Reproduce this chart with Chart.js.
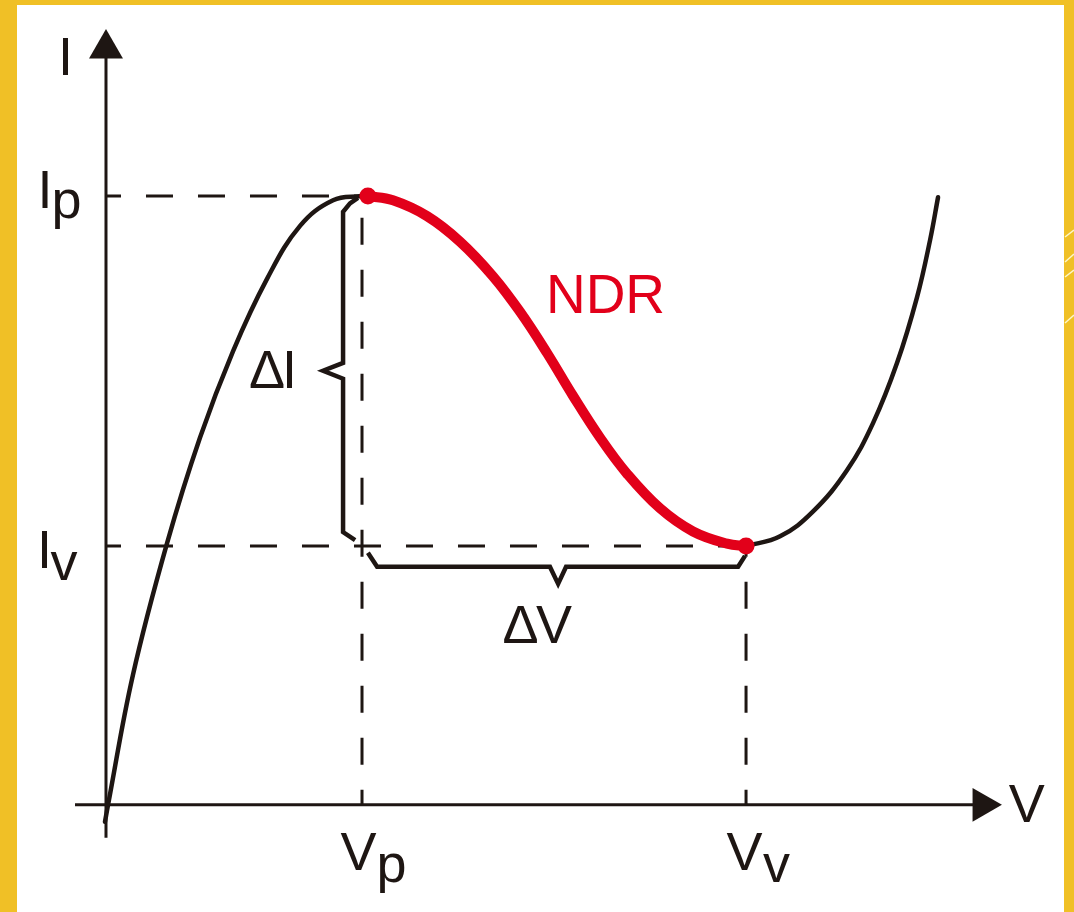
<!DOCTYPE html>
<html>
<head>
<meta charset="utf-8">
<script src="https://cdn.jsdelivr.net/npm/chart.js@4.4.1/dist/chart.umd.min.js"></script>
<style>
  html, body { margin: 0; padding: 0; background: #f0c026; }
  #wrap { width: 1074px; height: 912px; }
</style>
</head>
<body>
<div id="wrap"><canvas id="grafico" width="1074" height="912"></canvas></div>
<script>
// V normalised to Vp, I normalised to Ip
const Vp = 1.0, Vv = 2.5;
const Ip = 1.0, Iv = 0.425;

// rising branch, up to the peak
const vRise = [-0.004, 0.008, 0.105, 0.238, 0.367, 0.496, 0.629, 0.758, 0.887, 1.0];
const iRise = [-0.028, 0.0, 0.213, 0.429, 0.603, 0.745, 0.864, 0.951, 0.993, 1.0];

// negative differential resistance branch
const vNdr = [1.023, 1.121, 1.254, 1.383, 1.512, 1.617, 1.723, 1.824, 1.930, 2.035, 2.164, 2.293, 2.426, 2.5];
const iNdr = [1.0, 0.993, 0.967, 0.925, 0.868, 0.810, 0.742, 0.672, 0.603, 0.544, 0.487, 0.449, 0.429, 0.425];

// after the valley
const vValley = [2.5, 2.633, 2.762, 2.895, 2.996, 3.090, 3.168, 3.219, 3.25];
const iValley = [0.425, 0.441, 0.482, 0.550, 0.627, 0.726, 0.834, 0.928, 0.998];

// braces for delta I and delta V
const vBraceI = [0.984, 0.953, 0.926, 0.926, 0.848, 0.926, 0.926, 0.973];
const iBraceI = [0.997, 0.988, 0.974, 0.726, 0.713, 0.700, 0.448, 0.435];
const vBraceV = [1.023, 1.059, 1.734, 1.766, 1.797, 2.469, 2.496];
const iBraceV = [0.414, 0.391, 0.391, 0.363, 0.391, 0.391, 0.409];

// axes ends and arrow heads
const vAxis = [-0.121, 3.395];
const iAxis = [-0.054, 1.228];
const vArrow = 3.423, iArrow = 1.242;

// text labels (x, y = baseline centre)
const labelText = ['I', 'I', 'p', 'I', 'v', 'V', 'p', 'V', 'v', 'V', '\u0394', 'I', '\u0394', 'V', 'NDR'];
const labelV    = [-0.158, -0.238, -0.154, -0.240, -0.164, 0.986, 1.115, 2.494, 2.619, 3.596, 0.629, 0.717, 1.619, 1.750, 1.951];
const labelI    = [1.199, 0.980, 0.964, 0.389, 0.370, -0.107, -0.126, -0.107, -0.126, -0.028, 0.685, 0.685, 0.266, 0.266, 0.808];

const INK = '#1e1613';
const RED = '#e2001a';

function pts(xs, ys) {
  return xs.map(function(v, i) { return {x: v, y: ys[i]}; });
}

const backdrop = {
  id: 'backdrop',
  beforeDraw: function(chart) {
    const ctx = chart.ctx;
    ctx.save();
    ctx.fillStyle = '#f0c026';
    ctx.fillRect(0, 0, chart.width, chart.height);
    ctx.fillStyle = '#ffffff';
    ctx.fillRect(17, 5, 1047, chart.height - 5);
    // small light streaks on the right border
    ctx.strokeStyle = '#fdf6c8';
    ctx.lineWidth = 1.5;
    [[237, 230], [262, 254], [277, 270], [323, 315]].forEach(function(s) {
      ctx.beginPath();
      ctx.moveTo(1065, s[0]);
      ctx.lineTo(1074, s[1]);
      ctx.stroke();
    });
    ctx.restore();
  }
};

const labels = {
  id: 'labels',
  afterDatasetsDraw: function(chart) {
    const ctx = chart.ctx, x = chart.scales.x, y = chart.scales.y;
    ctx.save();
    ctx.textAlign = 'center';
    ctx.textBaseline = 'alphabetic';
    labelText.forEach(function(t, i) {
      ctx.fillStyle = t === 'NDR' ? RED : INK;
      ctx.font = (t === 'NDR' ? '55px' : '54px') + ' "Liberation Sans", Arial, sans-serif';
      ctx.fillText(t, x.getPixelForValue(labelV[i]), y.getPixelForValue(labelI[i]));
    });
    ctx.restore();
  }
};

function dashed(xs, ys) {
  return {
    data: pts(xs, ys), showLine: true, borderColor: INK, borderWidth: 3,
    borderDash: [27, 25], borderDashOffset: 12, pointRadius: 0, order: 4
  };
}

function curve(xs, ys, color, w, ord) {
  return {
    data: pts(xs, ys), showLine: true, borderColor: color, borderWidth: w,
    tension: 0.4, pointRadius: 0, borderCapStyle: 'round', order: ord
  };
}

new Chart(document.getElementById('grafico'), {
  type: 'scatter',
  data: {
    datasets: [
      { data: [{x: vNdr[0], y: Ip}, {x: Vv, y: Iv}], pointRadius: 8.5, pointBackgroundColor: RED,
        pointBorderWidth: 0, order: 0 },
      curve(vNdr, iNdr, RED, 10, 1),
      curve(vRise, iRise, INK, 4.5, 2),
      curve(vValley, iValley, INK, 4.5, 2),
      { data: pts(vBraceI, iBraceI), showLine: true, borderColor: INK, borderWidth: 4.5,
        tension: 0, pointRadius: 0, order: 3 },
      { data: pts(vBraceV, iBraceV), showLine: true, borderColor: INK, borderWidth: 4.5,
        tension: 0, pointRadius: 0, order: 3 },
      dashed([0, Vp], [Ip, Ip]),
      dashed([Vp, Vp], [0, Ip]),
      dashed([0, Vv], [Iv, Iv]),
      dashed([Vv, Vv], [0, Iv]),
      { data: pts(vAxis, [0, 0]), showLine: true, borderColor: INK, borderWidth: 3, pointRadius: 0, order: 5 },
      { data: pts([0, 0], iAxis), showLine: true, borderColor: INK, borderWidth: 3, pointRadius: 0, order: 5 },
      { data: [{x: vArrow, y: 0}], pointStyle: 'triangle', pointRotation: 90, pointRadius: 19.6,
        pointBackgroundColor: INK, pointBorderWidth: 0, order: 5 },
      { data: [{x: 0, y: iArrow}], pointStyle: 'triangle', pointRotation: 0, pointRadius: 19.6,
        pointBackgroundColor: INK, pointBorderWidth: 0, order: 5 }
    ]
  },
  options: {
    responsive: false,
    animation: false,
    events: [],
    layout: { padding: 0, autoPadding: false },
    plugins: { legend: { display: false }, tooltip: { enabled: false } },
    scales: {
      x: { type: 'linear', display: false, min: -0.414, max: 3.781 },
      y: { type: 'linear', display: false, min: -0.176, max: 1.322 }
    }
  },
  plugins: [backdrop, labels]
});
</script>
</body>
</html>
